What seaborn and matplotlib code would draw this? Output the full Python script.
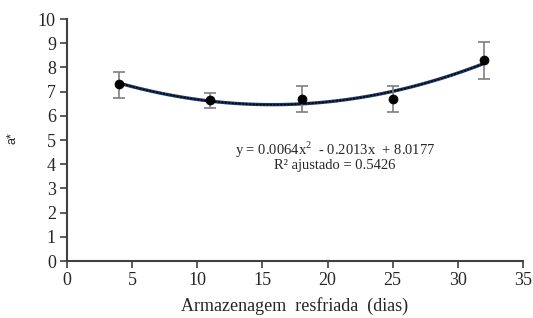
import matplotlib
matplotlib.use("Agg")
import matplotlib.pyplot as plt
import numpy as np
import pandas as pd
import seaborn as sns

# storage days and mean a* values with error bar extents
days = [4, 11, 18, 25, 32]
a_star = [7.30, 6.65, 6.71, 6.69, 8.29]
err_low = [0.55, 0.34, 0.54, 0.52, 0.77]
err_high = [0.52, 0.28, 0.52, 0.54, 0.77]

equation = "y = 0.0064x$^2$  - 0.2013x  + 8.0177"
r2_text = "R² ajustado = 0.5426"

sns.set_theme(style="white")
plt.rcParams["font.family"] = ["Liberation Serif", "DejaVu Serif"]
plt.rcParams["mathtext.fontset"] = "custom"
plt.rcParams["mathtext.rm"] = "Liberation Serif"

df = pd.DataFrame({"dias": days, "a": a_star})

fig = plt.figure(figsize=(5.33, 3.18), dpi=100)
ax = fig.add_axes([0.1257, 0.179, 0.8555, 0.761])

# quadratic trend (navy line with dotted black overlay, like the Excel export)
sns.regplot(data=df, x="dias", y="a", order=2, ci=None, scatter=False,
            line_kws={"color": "#1f3864", "lw": 2.4}, ax=ax)
sns.regplot(data=df, x="dias", y="a", order=2, ci=None, scatter=False,
            line_kws={"color": "black", "lw": 1.0, "ls": (0, (1.5, 1))}, ax=ax)

ax.errorbar(days, a_star, yerr=[err_low, err_high], fmt="none",
            ecolor="#7f7f7f", elinewidth=1.2, capsize=4, capthick=1.2, zorder=3)
sns.scatterplot(data=df, x="dias", y="a", color="black", s=42,
                edgecolor="black", zorder=4, ax=ax)

ax.set_xlim(0, 35)
ax.set_ylim(0, 10)
ax.set_xticks(range(0, 36, 5))
ax.set_yticks(range(0, 11, 1))
ax.tick_params(axis="both", labelsize=13, direction="out", length=5,
               width=1.2, color="#404040", left=True, bottom=True, pad=3)

for side in ["top", "right"]:
    ax.spines[side].set_visible(False)
for side in ["left", "bottom"]:
    ax.spines[side].set_color("#404040")
    ax.spines[side].set_linewidth(1.5)

ax.set_xlabel("Armazenagem  resfriada  (dias)", fontsize=13, labelpad=6)
ax.set_ylabel("a*", fontsize=9, family=["Liberation Sans", "DejaVu Sans"])
ax.yaxis.set_label_coords(-0.107, 0.51)

ax.text(20.57, 4.59, equation, ha="center", va="center", fontsize=10.5)
ax.text(20.57, 3.93, r2_text, ha="center", va="center", fontsize=10.5)

fig.savefig("out.png", dpi=100)
